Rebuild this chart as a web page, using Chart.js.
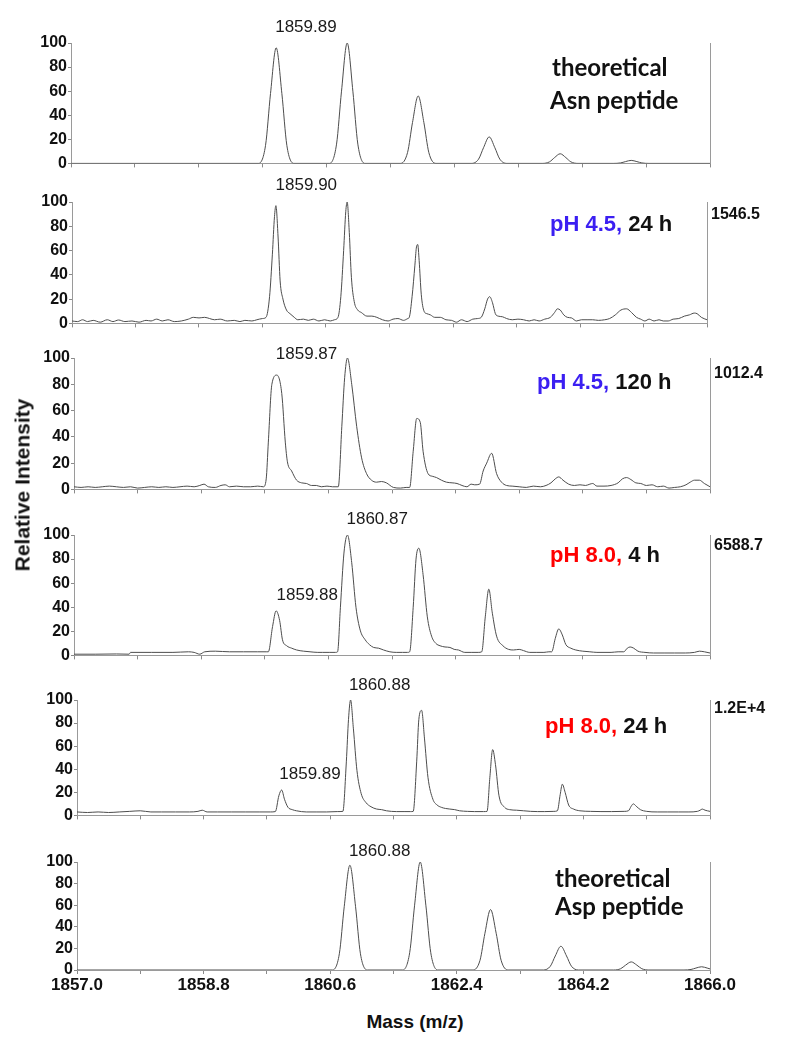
<!DOCTYPE html>
<html><head><meta charset="utf-8">
<script src="https://cdn.jsdelivr.net/npm/chart.js@4.4.1/dist/chart.umd.min.js"></script>
<style>
body{margin:0;background:#fff;width:786px;height:1050px;position:relative;overflow:hidden;font-family:"Liberation Sans",Arial,sans-serif}
canvas{position:absolute;left:0}
.lbl{position:absolute;white-space:nowrap;line-height:1;transform:translateY(-50%);color:#111;z-index:20}
.cond{font-weight:bold;font-size:22px}
.theo{font-family:Lato,"Open Sans",sans-serif;font-weight:700;font-size:24px}
.side{font-weight:bold;font-size:16px}
.blue{color:#3b1ff2}.red{color:#ff0000}
</style></head><body>
<script>
// ---------- DATA ----------
const xTickValues = [1857.0,1857.9,1858.8,1859.7,1860.6,1861.5,1862.4,1863.3,1864.2,1865.1,1866.0];
const xTickLabels = ['1857.0','','1858.8','','1860.6','','1862.4','','1864.2','','1866.0'];
const yTickValues = [0,20,40,60,80,100];

// Panel 1: theoretical Asn peptide
const asnMz = [1857.0,1859.64,1859.74,1859.81,1859.89,1859.97,1860.04,1860.14,
1860.64,1860.74,1860.81,1860.89,1860.97,1861.04,1861.14,
1861.64,1861.74,1861.81,1861.89,1861.97,1862.04,1862.14,
1862.64,1862.74,1862.81,1862.89,1862.97,1863.04,1863.14,
1863.64,1863.74,1863.81,1863.89,1863.97,1864.04,1864.14,
1864.64,1864.74,1864.81,1864.89,1864.97,1865.04,1865.14,1866.0];
const asnInt = [0,0,15,58,96,58,15,0,
0,16,60,100,60,16,0,
0,9,34,56,34,9,0,
0,3.5,13,22,13,3.5,0,
0,1.3,4.8,8,4.8,1.3,0,
0,0.4,1.5,2.5,1.5,0.4,0,0];

// Panel 2: pH 4.5, 24 h
const ph45h24Mz = [1857.00,1857.08,1857.15,1857.22,1857.30,1857.40,1857.50,1857.58,1857.66,1857.75,1857.85,1857.95,
1858.05,1858.12,1858.20,1858.28,1858.36,1858.45,1858.55,1858.65,1858.72,1858.80,1858.88,1858.95,
1859.02,1859.10,1859.20,1859.30,1859.38,1859.45,1859.55,1859.62,1859.70,
1859.75,1859.80,1859.84,1859.87,1859.89,1859.92,1859.95,1859.99,1860.04,1860.09,1860.15,1860.20,1860.28,1860.35,1860.42,1860.50,1860.58,1860.66,1860.72,
1860.77,1860.81,1860.85,1860.88,1860.90,1860.93,1860.96,1861.00,1861.05,1861.10,1861.18,1861.25,1861.32,1861.40,1861.48,1861.55,1861.62,1861.70,1861.76,
1861.78,1861.82,1861.86,1861.88,1861.90,1861.92,1861.95,1861.99,1862.03,1862.08,1862.14,1862.22,1862.30,1862.38,1862.45,1862.52,1862.60,1862.68,1862.75,
1862.80,1862.85,1862.89,1862.92,1862.96,1863.00,1863.04,1863.10,1863.16,1863.24,1863.32,1863.40,1863.48,1863.55,1863.62,1863.70,1863.78,
1863.84,1863.88,1863.92,1863.97,1864.02,1864.08,1864.15,1864.22,1864.30,1864.38,1864.46,1864.55,1864.62,
1864.70,1864.78,1864.86,1864.93,1865.00,1865.06,1865.12,1865.18,1865.25,1865.32,1865.38,1865.45,1865.52,1865.60,1865.68,
1865.75,1865.82,1865.86,1865.92,1866.00];
const ph45h24Int = [2,1.5,3,1.5,2.5,1,3,1.5,2.8,1.5,2,1,
2.5,2,3.5,2,3,1.5,2,3.5,5,4.5,5,4,
3,3.5,2,2.5,1.5,2.5,2,3,4,
5,22,57,88,97,72,35,20,11,8,5,3,3.5,2.5,3.5,2,3,2,3,
5,22,60,92,100,75,38,18,11,9,6,6,5,3,2,3.5,4,2.5,4,
5,22,48,62,65,52,24,10,8,7,5,5,3,2.5,1,3,1.5,3.5,4,
5,12,20,22,17,8,6,5.5,4,3,3.5,3,2,3,2,3.5,5,
9,12,11,7,5,4.5,2,3,3,3,2.5,3,4,
7,11,12,9,5,3.5,2,3.5,2,3,2,2,3.5,4,6,
7,8.5,8,5,3];

// Panel 3: pH 4.5, 120 h
const ph45h120Mz = [1857.00,1857.10,1857.20,1857.30,1857.40,1857.50,1857.60,1857.70,1857.80,1857.90,
1858.00,1858.10,1858.20,1858.30,1858.40,1858.50,1858.60,1858.70,1858.78,1858.84,1858.90,
1859.00,1859.08,1859.14,1859.20,1859.30,1859.40,1859.50,1859.60,1859.68,
1859.72,1859.75,1859.80,1859.87,1859.94,1859.99,1860.02,1860.08,1860.15,1860.22,1860.29,1860.36,1860.43,1860.50,1860.58,1860.66,
1860.74,1860.79,1860.83,1860.87,1860.93,1861.00,1861.07,1861.14,1861.21,1861.28,1861.35,1861.42,1861.52,1861.62,1861.70,
1861.75,1861.80,1861.85,1861.90,1861.94,1862.01,1862.07,1862.13,1862.20,1862.27,1862.35,1862.42,1862.49,1862.56,1862.62,1862.67,
1862.74,1862.79,1862.84,1862.91,1862.98,1863.05,1863.12,1863.20,1863.30,1863.40,1863.50,1863.60,1863.68,
1863.75,1863.81,1863.86,1863.92,1864.00,1864.08,1864.16,1864.24,1864.30,1864.34,1864.40,1864.50,1864.60,1864.70,
1864.76,1864.82,1864.88,1864.95,1865.02,1865.10,1865.18,1865.26,1865.34,1865.42,1865.50,1865.58,1865.66,
1865.72,1865.78,1865.85,1865.92,1866.00];
const ph45h120Int = [2,1.5,2,1.5,2,2.5,2,1.5,2,1,
1.5,2,1.5,2,1.5,2,2.5,2,3,4,2,
1.5,3,3.5,2,2.5,2,2,2.5,2,
8,36,80,87,73,36,21,14,7,5,4.5,3,3,2,2.5,2,
2,48,85,100,80,48,24,12,7,5.5,6,5,1.5,1,1.5,
1.5,29,54,51,29,12,10,9,7,5.5,5,4.5,3,2,4,3.5,
4,14,20,27.5,12,5.5,3,2.5,2,1.5,2.5,2,3,
5,8,9.5,7,4,3,3.5,3,4,4.5,2.5,2.5,3,5,
8,9,7.5,5,4.5,3,3.5,2,2.5,1,1.5,2,3.5,
5.5,7,7,4.5,2];

// Panel 4: pH 8.0, 4 h
const ph80h4Mz = [1857.00,1857.30,1857.60,1857.78,1857.80,1858.10,1858.40,1858.62,1858.70,1858.78,1858.85,1859.00,1859.20,1859.40,1859.60,1859.72,
1859.75,1859.81,1859.86,1859.91,1859.95,1860.01,1860.08,1860.15,1860.25,1860.34,1860.45,1860.52,1860.62,1860.70,
1860.73,1860.77,1860.82,1860.87,1860.93,1860.99,1861.05,1861.12,1861.18,1861.24,1861.31,1861.38,1861.47,1861.56,1861.65,1861.72,
1861.75,1861.80,1861.84,1861.88,1861.94,1862.00,1862.06,1862.12,1862.18,1862.25,1862.32,1862.38,1862.44,1862.53,1862.62,1862.72,
1862.77,1862.82,1862.87,1862.92,1862.98,1863.07,1863.15,1863.22,1863.30,1863.36,1863.45,1863.55,1863.65,1863.72,
1863.76,1863.81,1863.86,1863.91,1863.96,1864.03,1864.10,1864.20,1864.30,1864.40,1864.50,1864.60,1864.70,
1864.78,1864.83,1864.87,1864.92,1864.98,1865.08,1865.20,1865.35,1865.50,1865.65,1865.78,1865.85,1865.92,1866.00];
const ph80h4Int = [1,1,1.2,1,2.5,2.5,2.5,3,2.5,1,3,3.5,3,3,3,3,
3,24,37,29,13,8,6,4.5,3.5,3,2.5,2.5,2.5,2.5,
3,40,85,100,77,40,21,13,9,6.6,6,4.5,3,2.5,2.5,2.5,
3,40,80,89,67,32,16,10,8,7,6.6,5,4.5,2.5,2.5,2.5,
3,32,55,35,16,8,5,4.5,5,4,2.5,2.5,2.5,3,
3,14,22,17,9,6,4.5,3.5,3,2.5,2.5,2.5,3,
3,6,7,6,3.5,2.5,2,2,2,2,2.5,3.5,3,2];

// Panel 5: pH 8.0, 24 h
const ph80h24Mz = [1857.00,1857.15,1857.30,1857.45,1857.60,1857.75,1857.90,1858.05,1858.20,1858.40,1858.60,1858.72,1858.78,1858.85,1859.00,1859.20,1859.40,1859.60,1859.75,
1859.82,1859.87,1859.91,1859.95,1860.00,1860.06,1860.12,1860.26,1860.40,1860.55,1860.70,
1860.78,1860.83,1860.86,1860.89,1860.93,1860.98,1861.04,1861.11,1861.18,1861.26,1861.33,1861.40,1861.54,1861.65,1861.74,
1861.78,1861.83,1861.86,1861.90,1861.94,1861.99,1862.06,1862.12,1862.18,1862.24,1862.30,1862.37,1862.44,1862.55,1862.65,1862.78,
1862.83,1862.87,1862.91,1862.95,1863.00,1863.08,1863.15,1863.25,1863.35,1863.45,1863.55,1863.65,1863.78,
1863.83,1863.87,1863.90,1863.94,1863.99,1864.06,1864.15,1864.30,1864.45,1864.60,1864.78,
1864.84,1864.88,1864.91,1864.95,1865.01,1865.10,1865.25,1865.40,1865.55,1865.70,1865.82,
1865.86,1865.89,1865.93,1866.00];
const ph80h24Int = [3,2.5,3,2.5,3,3.5,4,3,3,3,3,3.5,4.5,3,3,3,3,3,3,
3.3,17,22,14,7,5,4,3,3,3,3.3,
3.5,47,83,100,75,39,19,11,7.5,5.5,5,4,3.3,3.3,3.3,
3.5,47,83,91,67,33,14,9,7,6,5.5,5,4,3.5,3.3,3.3,
3.5,33,57,44,17,7,5,4.5,4,3.5,3.3,3.3,3.5,
4,18,27,20,9,5.5,4,3.5,3.3,3.3,3.5,
4,8,10,8,5,3.5,3,3,3,3,3.5,
4.5,5.5,4.5,3.5];

// Panel 6: theoretical Asp peptide
const aspMz = [1857.0,1860.63,1860.73,1860.80,1860.88,1860.96,1861.03,1861.13,
1861.63,1861.73,1861.80,1861.88,1861.96,1862.03,1862.13,
1862.63,1862.73,1862.80,1862.88,1862.96,1863.03,1863.13,
1863.63,1863.73,1863.80,1863.88,1863.96,1864.03,1864.13,
1864.63,1864.73,1864.80,1864.88,1864.96,1865.03,1865.13,
1865.63,1865.73,1865.80,1865.88,1865.96,1866.0];
const aspInt = [0,0,15,59,97,59,15,0,
0,16,60,100,60,16,0,
0,9,34,56,34,9,0,
0,3.5,13,22,13,3.5,0,
0,1.2,4.5,7.5,4.5,1.2,0,
0,0.5,1.8,3,1.8,1.0];

// peak annotation labels (mass of labelled peak and its text)
const peakLabelMz   = [[1859.89],[1859.90],[1859.87],[1859.88,1860.87],[1859.89,1860.88],[1860.88]];
const peakLabelText = [['1859.89'],['1859.90'],['1859.87'],['1859.88','1860.87'],['1859.89','1860.88'],['1860.88']];
const scaleFactors  = ['', '1546.5', '1012.4', '6588.7', '1.2E+4', ''];

// ---------- LAYOUT ----------
const series = [[asnMz,asnInt],[ph45h24Mz,ph45h24Int],[ph45h120Mz,ph45h120Int],[ph80h4Mz,ph80h4Int],[ph80h24Mz,ph80h24Int],[aspMz,aspInt]];
const panels = [
  {top:43, bottom:168, left:71, right:710, labY:[113], sfY:0},
  {top:202, bottom:328, left:72, right:707, labY:[114], sfY:214},
  {top:358, bottom:494, left:74, right:710, labY:[103], sfY:373},
  {top:535, bottom:660, left:74, right:710, labY:[50,113], sfY:545},
  {top:700, bottom:820, left:77, right:710, labY:[36,113], sfY:708},
  {top:862, bottom:970, left:77, right:710, labY:[110], sfY:0}
];
const PADT = 30;
const FONT = '"Liberation Sans", Arial, sans-serif';

const annotPlugin = {
  id:'annot',
  afterDraw(chart, args, opts){
    const ctx = chart.ctx, xs = chart.scales.x, ys = chart.scales.y, ca = chart.chartArea;
    ctx.save();
    ctx.strokeStyle = '#9a9a9a'; ctx.lineWidth = 1;
    ctx.beginPath(); ctx.moveTo(ca.right+0.5, ca.top); ctx.lineTo(ca.right+0.5, ca.bottom); ctx.stroke();
    ctx.fillStyle = '#1a1a1a';
    ctx.font = '17px ' + FONT;
    ctx.textAlign = 'left'; ctx.textBaseline = 'middle';
    opts.mz.forEach((m,i)=>{
      ctx.fillText(opts.text[i], xs.getPixelForValue(m) - 1, ys.getPixelForValue(opts.y[i]));
    });
    ctx.restore();
  }
};

panels.forEach((p, k)=>{
  const isLast = k === panels.length - 1;
  const XH = isLast ? 28 : 6;
  const c = document.createElement('canvas');
  const h = PADT + (p.bottom - p.top) + XH;
  c.width = 786; c.height = h;
  c.style.top = (p.top - PADT) + 'px';
  c.style.width = '786px'; c.style.height = h + 'px';
  c.style.zIndex = k + 1;
  document.body.appendChild(c);
  const [mz, it] = series[k];
  new Chart(c, {
    type:'line',
    data:{datasets:[{data: mz.map((m,i)=>({x:m, y:it[i]})), borderColor:'#4d4d4d', borderWidth:1,
      pointRadius:0, fill:false, cubicInterpolationMode:'monotone'}]},
    options:{
      responsive:false, animation:false, events:[],
      devicePixelRatio:1,
      layout:{padding:{top:PADT, right:786 - p.right, left:0, bottom:0}},
      plugins:{legend:{display:false}, tooltip:{enabled:false},
        annot:{mz:peakLabelMz[k], text:peakLabelText[k], y:p.labY}},
      scales:{
        x:{type:'linear', min:1857, max:1866,
          afterBuildTicks:s=>{ s.ticks = xTickValues.map(v=>({value:v})); },
          afterFit:s=>{ s.height = XH; },
          ticks:{display:isLast, autoSkip:false, maxRotation:0, padding:1,
            callback:(v,i)=>xTickLabels[i], color:'#111', font:{family:FONT, size:17, weight:'bold'}},
          grid:{drawOnChartArea:false, drawTicks:true, tickLength:4, color:'#8a8a8a'},
          border:{display:true, color:'#9a9a9a'}},
        y:{min:0, max:100,
          afterBuildTicks:s=>{ s.ticks = yTickValues.map(v=>({value:v})); },
          afterFit:s=>{ s.width = p.left; },
          ticks:{autoSkip:false, padding:1, color:'#111', font:{family:FONT, size:16, weight:'bold'}},
          grid:{drawOnChartArea:false, drawTicks:true, tickLength:3, color:'#8a8a8a'},
          border:{display:true, color:'#9a9a9a'}}
      }
    },
    plugins:[annotPlugin]
  });
  if (scaleFactors[k]) {
    const d = document.createElement('div');
    d.className = 'lbl side';
    d.textContent = scaleFactors[k];
    d.style.left = (p.right + 4) + 'px';
    d.style.top = p.sfY + 'px';
    document.body.appendChild(d);
  }
});
</script>
<div class="lbl theo" style="left:552px;top:67px">theoretical</div>
<div class="lbl theo" style="left:550px;top:100px">Asn peptide</div>
<div class="lbl cond" style="left:550px;top:224px"><span class="blue">pH 4.5,</span> 24 h</div>
<div class="lbl cond" style="left:537px;top:382px"><span class="blue">pH 4.5,</span> 120 h</div>
<div class="lbl cond" style="left:550px;top:555px"><span class="red">pH 8.0,</span> 4 h</div>
<div class="lbl cond" style="left:545px;top:726px"><span class="red">pH 8.0,</span> 24 h</div>
<div class="lbl theo" style="left:555px;top:878px">theoretical</div>
<div class="lbl theo" style="left:555px;top:906px">Asp peptide</div>
<div class="lbl" style="left:415px;top:1021px;transform:translate(-50%,-50%);font-weight:bold;font-size:19px">Mass (m/z)</div>
<div class="lbl" style="left:22px;top:485px;transform:translate(-50%,-50%) rotate(-90deg);font-weight:bold;font-size:21px">Relative Intensity</div>
</body></html>
